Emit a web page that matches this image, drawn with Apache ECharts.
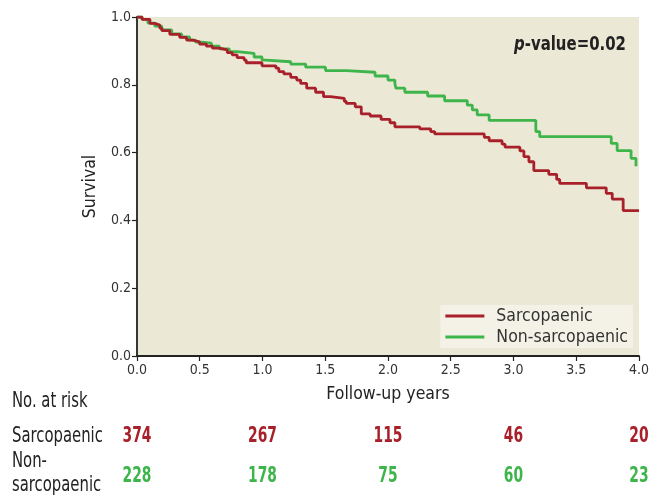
<!DOCTYPE html>
<html><head><meta charset="utf-8">
<script src="https://cdn.jsdelivr.net/npm/echarts@6/dist/echarts.min.js"></script>
<style>html,body{margin:0;padding:0;background:#fff}#c{width:652px;height:499px}</style>
</head><body><div id="c"></div>
<script>
var sarcTimes = [0,0.040,0.103,0.142,0.182,0.198,0.261,0.340,0.395,0.443,0.498,0.553,0.601,0.656,0.719,0.759,0.798,0.854,0.870,0.996,1.107,1.130,1.170,1.225,1.273,1.304,1.352,1.423,1.486,1.542,1.652,1.668,1.739,1.787,1.858,1.945,2.016,2.055,2.253,2.340,2.372,2.767,2.806,2.909,2.933,3.051,3.083,3.123,3.162,3.281,3.344,3.368,3.581,3.739,3.787,3.874,4.0];
var sarcSurv = [1.0,0.993,0.981,0.976,0.967,0.960,0.949,0.940,0.932,0.927,0.920,0.914,0.908,0.903,0.895,0.888,0.880,0.873,0.865,0.856,0.849,0.839,0.832,0.822,0.814,0.804,0.790,0.778,0.765,0.760,0.751,0.745,0.735,0.714,0.708,0.698,0.688,0.676,0.670,0.662,0.655,0.645,0.635,0.625,0.616,0.605,0.588,0.573,0.547,0.536,0.521,0.509,0.496,0.480,0.463,0.429,0.429];
var nonTimes = [0,0.040,0.087,0.142,0.198,0.277,0.356,0.419,0.466,0.514,0.593,0.656,0.735,0.798,0.933,0.996,1.028,1.225,1.344,1.502,1.668,1.897,2.000,2.055,2.063,2.134,2.316,2.451,2.632,2.672,2.711,2.806,3.178,3.209,3.779,3.826,3.937,3.976];
var nonSurv = [1.0,0.993,0.982,0.973,0.962,0.950,0.941,0.932,0.926,0.923,0.914,0.906,0.898,0.893,0.882,0.873,0.868,0.861,0.852,0.842,0.837,0.826,0.814,0.804,0.790,0.778,0.767,0.753,0.740,0.726,0.711,0.695,0.662,0.647,0.627,0.606,0.583,0.560];
var riskTimes = [0,1,2,3,4];
var riskSarc = [374,267,115,46,20];
var riskNon = [228,178,75,60,23];
var seriesNames = ['Sarcopaenic','Non-sarcopaenic'];

var RED = '#a8202a', GREEN = '#3db54a';
var FONT = "'DejaVu Sans Condensed','DejaVu Sans',sans-serif";
function pairs(t, v){ return t.map(function(x,i){return [x, v[i]];}); }

var chart = echarts.init(document.getElementById('c'), null, {renderer:'canvas'});
var option = {
  animation:false,
  textStyle:{fontFamily:FONT},
  grid:{left:137, right:9, top:17, bottom:143, show:true, backgroundColor:'#ece8d6', borderWidth:0},
  xAxis:{type:'value', min:0, max:4, interval:0.5,
    name:'Follow-up years', nameLocation:'middle', nameGap:29,
    nameTextStyle:{fontSize:17.5, color:'#222', fontFamily:FONT},
    axisLine:{lineStyle:{color:'#222', width:1.8}},
    axisTick:{show:true, length:5, lineStyle:{color:'#222', width:1.2}},
    axisLabel:{fontSize:14, color:'#333', margin:7, fontFamily:FONT, formatter:function(v){return v.toFixed(1);}},
    splitLine:{show:false}},
  yAxis:{type:'value', min:0, max:1, interval:0.2,
    name:'Survival', nameLocation:'middle', nameGap:38,
    nameTextStyle:{fontSize:17.5, color:'#222', fontFamily:FONT},
    axisLine:{show:true, lineStyle:{color:'#222', width:1.8}},
    axisTick:{show:true, length:5, lineStyle:{color:'#222', width:1.2}},
    axisLabel:{fontSize:14, color:'#333', margin:6, fontFamily:FONT, formatter:function(v){return v.toFixed(1);}},
    splitLine:{show:false}},
  legend:{orient:'vertical', right:19, top:305, backgroundColor:'#f4f2e7',
    padding:[2,5,2,5], itemGap:3, itemWidth:39, itemHeight:3, icon:'rect',
    textStyle:{fontSize:17.5, lineHeight:18, color:'#333', fontFamily:FONT, padding:[0,0,0,7]},
    data:seriesNames},
  series:[
    {name:seriesNames[0], type:'line', step:'end', showSymbol:false, symbol:'none',
     lineStyle:{color:RED, width:2.8}, itemStyle:{color:RED}, data:pairs(sarcTimes, sarcSurv), z:3},
    {name:seriesNames[1], type:'line', step:'end', showSymbol:false, symbol:'none',
     lineStyle:{color:GREEN, width:2.8}, itemStyle:{color:GREEN}, data:pairs(nonTimes, nonSurv), z:2}
  ]
};
chart.setOption(option);

var g = [];
g.push({type:'text', x:626, y:45, scaleX:0.83, style:{
  text:'{i|p}{b|-value=0.02}', textAlign:'right', textVerticalAlign:'middle', rich:{
    i:{fontStyle:'italic', fontWeight:'bold', fontSize:20, fill:'#222', fontFamily:FONT},
    b:{fontWeight:'bold', fontSize:20, fill:'#222', fontFamily:FONT}}}});
function lab(txt, x, y){ return {type:'text', x:x, y:y, scaleX:0.75, style:{text:txt, fontSize:22, fill:'#222', fontFamily:FONT, textVerticalAlign:'middle'}}; }
g.push(lab('No. at risk', 12, 401));
g.push(lab('Sarcopaenic', 12, 436));
g.push(lab('Non-', 12, 461));
g.push(lab('sarcopaenic', 12, 485));
riskTimes.forEach(function(t, i){
  var x = chart.convertToPixel({xAxisIndex:0}, t);
  g.push({type:'text', x:x, y:436, scaleX:0.7, style:{text:String(riskSarc[i]), fontSize:22, fontWeight:'bold', fill:RED, fontFamily:FONT, textAlign:'center', textVerticalAlign:'middle'}});
  g.push({type:'text', x:x, y:476, scaleX:0.7, style:{text:String(riskNon[i]), fontSize:22, fontWeight:'bold', fill:GREEN, fontFamily:FONT, textAlign:'center', textVerticalAlign:'middle'}});
});
chart.setOption({graphic:g});
</script></body></html>
